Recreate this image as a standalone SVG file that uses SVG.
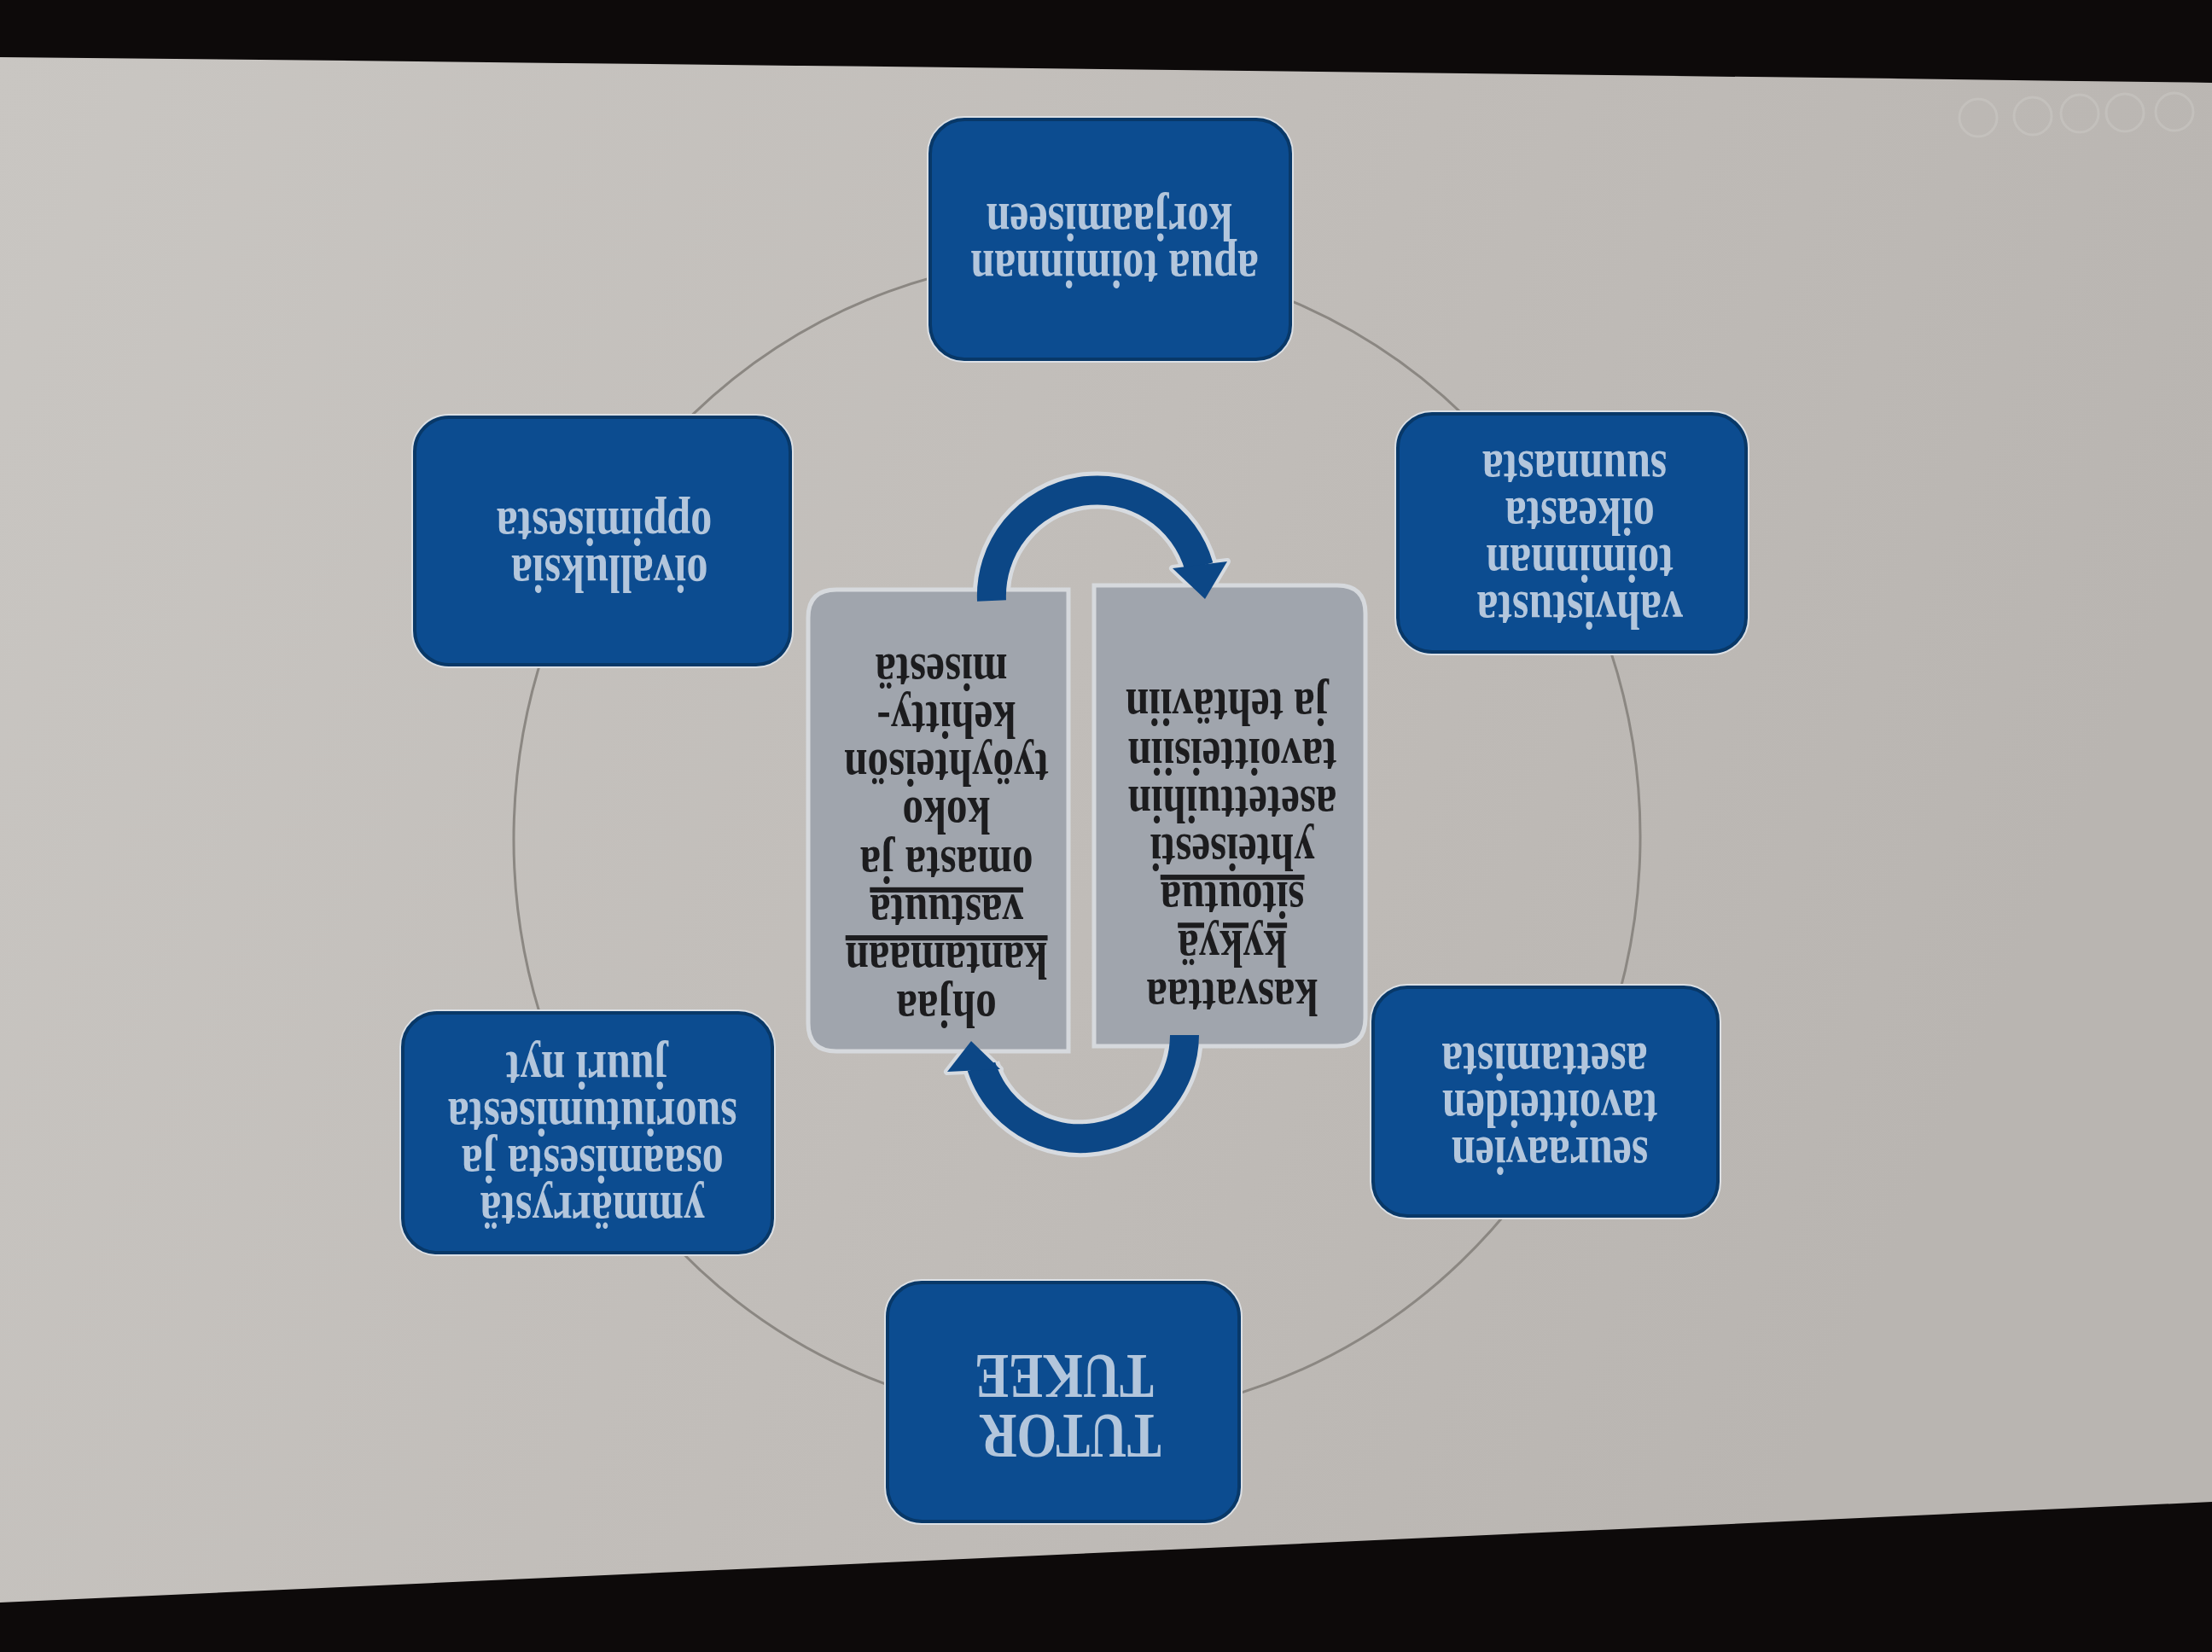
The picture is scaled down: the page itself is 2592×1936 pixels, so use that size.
<svg xmlns="http://www.w3.org/2000/svg" width="2592" height="1936" viewBox="0 0 2592 1936">
<defs>
<linearGradient id="bg" x1="0" y1="0" x2="1" y2="0.3">
<stop offset="0" stop-color="#c9c6c2"/>
<stop offset="0.55" stop-color="#c1bdb9"/>
<stop offset="1" stop-color="#b9b5b1"/>
</linearGradient>
<style>
.halo{fill:none;stroke:#dce0e5;stroke-width:8}
.box{fill:#0c4c90;stroke:#083868;stroke-width:4}
.bt{font-family:"Liberation Serif","Times New Roman",serif;font-weight:bold;font-size:50px;fill:#b3c6dc;text-anchor:middle}
.big{font-size:60px}
.panel{fill:#a0a5ad;stroke:#d6d9dd;stroke-width:5}
.pt{font-family:"Liberation Serif","Times New Roman",serif;font-weight:bold;font-size:49px;fill:#1c1c1e;text-anchor:middle}
.ring{fill:none;stroke:#8b8782;stroke-width:3}
.arrH{fill:none;stroke:#d7dbe0;stroke-width:44}
.arr{fill:none;stroke:#0c4786;stroke-width:34}
.headH{fill:#d7dbe0;stroke:#d7dbe0;stroke-width:8;stroke-linejoin:round}
.head{fill:#0c4786}
.ico{fill:none;stroke:#cfccc8;stroke-width:3;opacity:0.45}
</style>
</defs>

<!-- background: photo of projected slide -->
<rect x="0" y="0" width="2592" height="1936" fill="#0d0a0a"/>
<path d="M0 67 Q1290 80 2592 97 L2592 1760 Q1290 1820 0 1878 Z" fill="url(#bg)"/>

<!-- faint presentation controls -->
<g id="controls">
<circle class="ico" cx="2318" cy="138" r="22"/>
<circle class="ico" cx="2382" cy="136" r="22"/>
<circle class="ico" cx="2437" cy="133" r="22"/>
<circle class="ico" cx="2490" cy="132" r="22"/>
<circle class="ico" cx="2548" cy="131" r="22"/>
</g>

<!-- connectors -->
<g id="connectors">
<ellipse class="ring" cx="1262" cy="982" rx="660" ry="680" transform="rotate(2 1262 982)"/>
<path class="arrH" d="M1162 704 A124 124 0 0 1 1405 664"/>
<path class="arrH" d="M1388 1213 A122 122 0 0 1 1150 1250"/>
<polygon class="headH" points="1374,666 1438,658 1412,702"/>
<polygon class="headH" points="1110,1256 1172,1253 1138,1220"/>
</g>

<!-- centre panels -->
<g id="panel-left">
<path class="panel" d="M1252 691 V1232 H980 Q947 1232 947 1199 V724 Q947 691 980 691 Z"/>
<text class="pt" transform="translate(1103,978) rotate(180) scale(1,1.25)">
<tspan x="0" y="-147">ohjaa</tspan>
<tspan x="0" y="-102" text-decoration="underline">kantamaan</tspan>
<tspan x="0" y="-57" text-decoration="underline">vastuuta</tspan>
<tspan x="0" y="-12">omasta ja</tspan>
<tspan x="0" y="34">koko</tspan>
<tspan x="0" y="79">työyhteisön</tspan>
<tspan x="0" y="124">kehitty-</tspan>
<tspan x="0" y="169">misestä</tspan>
</text>
</g>
<g id="panel-right">
<path class="panel" d="M1282 686 H1567 Q1600 686 1600 719 V1193 Q1600 1226 1567 1226 H1282 Z"/>
<text class="pt" transform="translate(1438,992) rotate(180) scale(1,1.25)">
<tspan x="0" y="-125">kasvattaa</tspan>
<tspan x="0" y="-79" text-decoration="underline">kykyä</tspan>
<tspan x="0" y="-34" text-decoration="underline">sitoutua</tspan>
<tspan x="0" y="11">yhteisesti</tspan>
<tspan x="0" y="56">asetettuihin</tspan>
<tspan x="0" y="101">tavoitteisiin</tspan>
<tspan x="0" y="147">ja tehtäviin</tspan>
</text>
</g>

<!-- cycle arrows over panels -->
<g id="cycle-arrows">
<path class="arr" d="M1162 704 A124 124 0 0 1 1405 664"/>
<polygon class="head" points="1374,666 1438,658 1412,702"/>
<path class="arr" d="M1388 1213 A122 122 0 0 1 1150 1250"/>
<polygon class="head" points="1110,1256 1172,1253 1138,1220"/>
</g>

<!-- outer nodes -->
<g id="node-apua">
<rect class="halo" x="1090" y="140" width="422" height="281" rx="40"/>
<rect class="box" x="1090" y="140" width="422" height="281" rx="40"/>
<text class="bt" transform="translate(1300,280) rotate(180) scale(1,1.25)">
<tspan x="0" y="-11">apua toiminnan</tspan>
<tspan x="0" y="33">korjaamiseen</tspan>
</text>
</g>
<g id="node-vahvistusta">
<rect class="halo" x="1638" y="485" width="408" height="279" rx="40"/>
<rect class="box" x="1638" y="485" width="408" height="279" rx="40"/>
<text class="bt" transform="translate(1845,625) rotate(180) scale(1,1.25)">
<tspan x="0" y="-55">vahvistusta</tspan>
<tspan x="0" y="-11">toiminnan</tspan>
<tspan x="0" y="33">oikeasta</tspan>
<tspan x="0" y="77">suunnasta</tspan>
</text>
</g>
<g id="node-seuraavien">
<rect class="halo" x="1609" y="1157" width="404" height="268" rx="40"/>
<rect class="box" x="1609" y="1157" width="404" height="268" rx="40"/>
<text class="bt" transform="translate(1810,1292) rotate(180) scale(1,1.25)">
<tspan x="0" y="-33">seuraavien</tspan>
<tspan x="0" y="11">tavoitteiden</tspan>
<tspan x="0" y="55">asettamista</tspan>
</text>
</g>
<g id="node-tutor">
<rect class="halo" x="1040" y="1503" width="412" height="280" rx="40"/>
<rect class="box" x="1040" y="1503" width="412" height="280" rx="40"/>
<text class="bt big" transform="translate(1247,1648) rotate(180) scale(1,1.25)">
<tspan x="0" y="-8">TUTOR</tspan>
<tspan x="0" y="48">TUKEE</tspan>
</text>
</g>
<g id="node-ymmarrysta">
<rect class="halo" x="472" y="1187" width="433" height="281" rx="40"/>
<rect class="box" x="472" y="1187" width="433" height="281" rx="40"/>
<text class="bt" transform="translate(688,1329) rotate(180) scale(1,1.25)">
<tspan x="0" y="-55">ymmärrystä</tspan>
<tspan x="0" y="-11">osaamisesta ja</tspan>
<tspan x="0" y="33">suoriutumisesta</tspan>
<tspan x="0" y="77">juuri nyt</tspan>
</text>
</g>
<g id="node-oivalluksia">
<rect class="halo" x="486" y="489" width="440" height="290" rx="40"/>
<rect class="box" x="486" y="489" width="440" height="290" rx="40"/>
<text class="bt" transform="translate(708,637) rotate(180) scale(1,1.25)">
<tspan x="0" y="-11">oivalluksia</tspan>
<tspan x="0" y="33">oppimisesta</tspan>
</text>
</g>
</svg>
